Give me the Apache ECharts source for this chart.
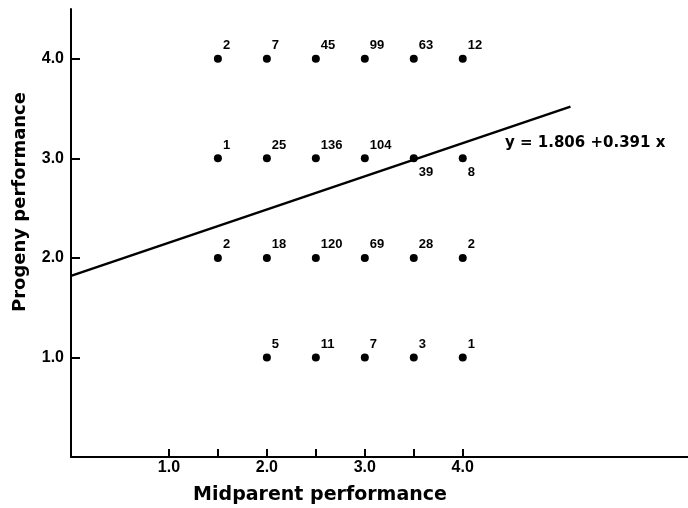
<!DOCTYPE html>
<html><head><meta charset="utf-8">
<script src="https://cdn.jsdelivr.net/npm/echarts@6/dist/echarts.min.js"></script>
<style>html,body{margin:0;padding:0;background:#fff}#c{width:688px;height:508px}</style>
</head><body><div id="c"></div>
<script>
const midparent = [1.5, 2.0, 2.5, 3.0, 3.5, 4.0];
const progenyLevels = [4.0, 3.0, 2.0, 1.0];
const counts4 = [2, 7, 45, 99, 63, 12];
const counts3 = [1, 25, 136, 104, 39, 8];
const counts2 = [2, 18, 120, 69, 28, 2];
const counts1 = [null, 5, 11, 7, 3, 1];
const xTickValues = [1.0, 1.5, 2.0, 2.5, 3.0, 3.5, 4.0];
const xLabelValues = [1.0, 2.0, 3.0, 4.0];
const yTickValues = [1.0, 2.0, 3.0, 4.0];
const lineX = [0, 5.1];
const lineY = [1.82, 3.52];
const equation = 'y = 1.806 +0.391 x';
const belowLabels = [[3.5, 3.0], [4.0, 3.0]];

const rows = [counts4, counts3, counts2, counts1];
const pts = [];
rows.forEach((row, r) => {
  row.forEach((c, i) => {
    if (c == null) return;
    const x = midparent[i], y = progenyLevels[r];
    const below = belowLabels.some(b => b[0] === x && b[1] === y);
    const item = { value: [x, y, c] };
    if (below) item.label = { offset: [0, 14] };
    pts.push(item);
  });
});

const F = 'Liberation Sans, Arial, sans-serif';
const FD = '"DejaVu Sans", sans-serif';
const chart = echarts.init(document.getElementById('c'));
chart.setOption({
  animation: false,
  grid: { left: 71, right: 0, top: 9, bottom: 51 },
  xAxis: {
    type: 'value', min: 0, max: 6.3,
    axisLine: { lineStyle: { color: '#000', width: 2 } },
    axisTick: { inside: true, length: 8, lineStyle: { color: '#000', width: 2 }, customValues: xTickValues },
    axisLabel: { customValues: xLabelValues, formatter: v => v.toFixed(1), color: '#000', fontFamily: F, fontWeight: 'bold', fontSize: 16, margin: 3 },
    splitLine: { show: false }
  },
  yAxis: {
    type: 'value', min: 0, max: 4.5,
    axisLine: { show: true, lineStyle: { color: '#000', width: 2 } },
    axisTick: { show: true, inside: true, length: 9, lineStyle: { color: '#000', width: 2 }, customValues: yTickValues },
    axisLabel: { customValues: yTickValues, formatter: v => v.toFixed(1), color: '#000', fontFamily: F, fontWeight: 'bold', fontSize: 16, margin: 7 },
    splitLine: { show: false }
  },
  series: [
    {
      type: 'line', data: lineX.map((x, i) => [x, lineY[i]]), showSymbol: false,
      lineStyle: { color: '#000', width: 2.5 }, z: 1
    },
    {
      type: 'scatter', data: pts, symbolSize: 8,
      itemStyle: { color: '#000', opacity: 1 },
      label: {
        show: true, position: 'right', distance: 1, offset: [0, -13], opacity: 1,
        formatter: p => String(p.value[2]), color: '#000', textBorderWidth: 0, fontFamily: F, fontWeight: 'bold', fontSize: 13
      }, z: 2
    }
  ],
  graphic: [
    { type: 'text', left: 505, top: 136, style: { text: equation, fill: '#000', font: 'bold 15px ' + FD } },
    { type: 'text', x: 320, y: 495, style: { text: 'Midparent performance', fill: '#000', font: 'bold 19px ' + FD, align: 'center', verticalAlign: 'middle' } },
    { type: 'text', x: 20, y: 202, rotation: Math.PI / 2, style: { text: 'Progeny performance', fill: '#000', font: 'bold 18px ' + FD, align: 'center', verticalAlign: 'middle' } }
  ]
});
</script></body></html>
